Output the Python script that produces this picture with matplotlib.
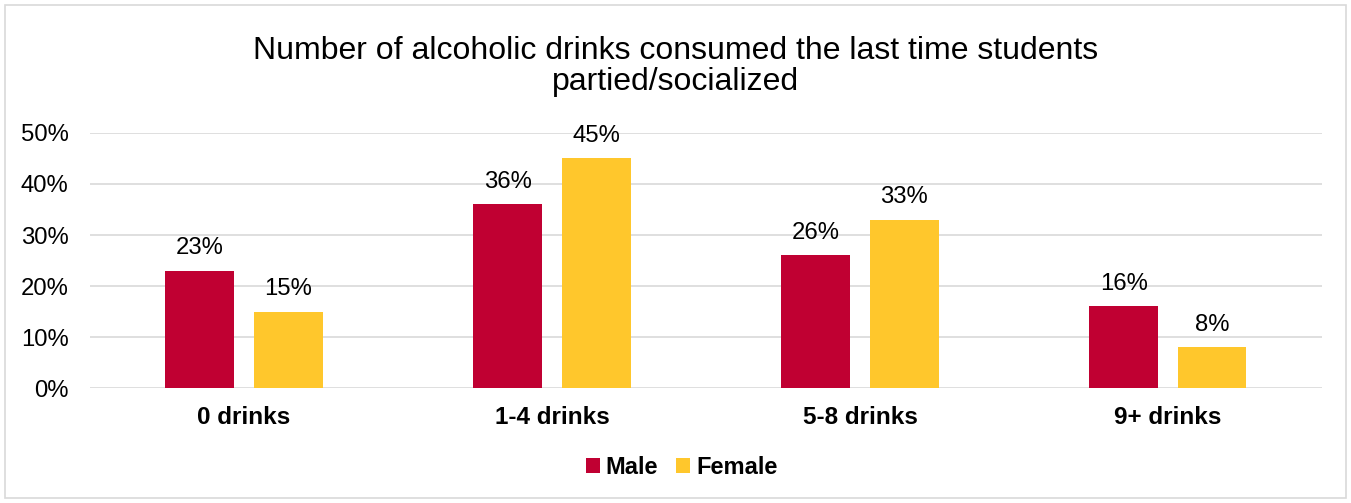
import matplotlib
matplotlib.use("Agg")
import matplotlib.pyplot as plt
from matplotlib.patches import Rectangle
import numpy as np

categories = ["0 drinks", "1-4 drinks", "5-8 drinks", "9+ drinks"]
male = [23, 36, 26, 16]
female = [15, 45, 33, 8]
yticks = [0, 10, 20, 30, 40, 50]

plt.rcParams["font.family"] = ["Liberation Sans", "DejaVu Sans"]

fig = plt.figure(figsize=(13.51, 5.03), dpi=100)
ax = fig.add_axes([0.0666, 0.2286, 0.9119, 0.507])

x = np.arange(len(categories))
w = 0.224
off = 0.143
red = "#C00032"
yellow = "#FFC72C"

bm = ax.bar(x - off, male, w, color=red, label="Male", zorder=3)
bf = ax.bar(x + off, female, w, color=yellow, label="Female", zorder=3)

for bars, vals in ((bm, male), (bf, female)):
    for b, v in zip(bars, vals):
        ax.text(b.get_x() + b.get_width() / 2, v + 2.2, f"{v}%",
                ha="center", va="bottom", fontsize=17.2, color="#000000")

ax.set_xlim(-0.5, 3.5)
ax.set_ylim(0, 50)
ax.set_yticks(yticks)
ax.set_yticklabels([f"{t}%" for t in yticks], fontsize=17.2)
ax.set_xticks(x)
ax.set_xticklabels(categories, fontsize=17.5, fontweight="bold")
ax.tick_params(axis="both", length=0)
ax.tick_params(axis="x", pad=13)
ax.tick_params(axis="y", pad=15.5)
ax.yaxis.grid(True, color="#D9D9D9", linewidth=1.2, zorder=0)
for s in ax.spines.values():
    s.set_visible(False)

fig.text(0.5, 0.868, "Number of alcoholic drinks consumed the last time students\npartied/socialized",
         ha="center", va="center", fontsize=23, linespacing=1.05)

fig.legend(handles=[bm, bf], labels=["Male", "Female"], loc="center",
           bbox_to_anchor=(0.5045, 0.07), ncol=2, frameon=False,
           prop={"weight": "bold", "size": 17}, handlelength=0.6,
           handleheight=0.6, handletextpad=0.25, columnspacing=0.75)

fig.patches.append(Rectangle((0.004, 0.01), 0.992, 0.98, transform=fig.transFigure,
                             fill=False, edgecolor="#D9D9D9", linewidth=1.2))

fig.savefig("out.png", dpi=100)
